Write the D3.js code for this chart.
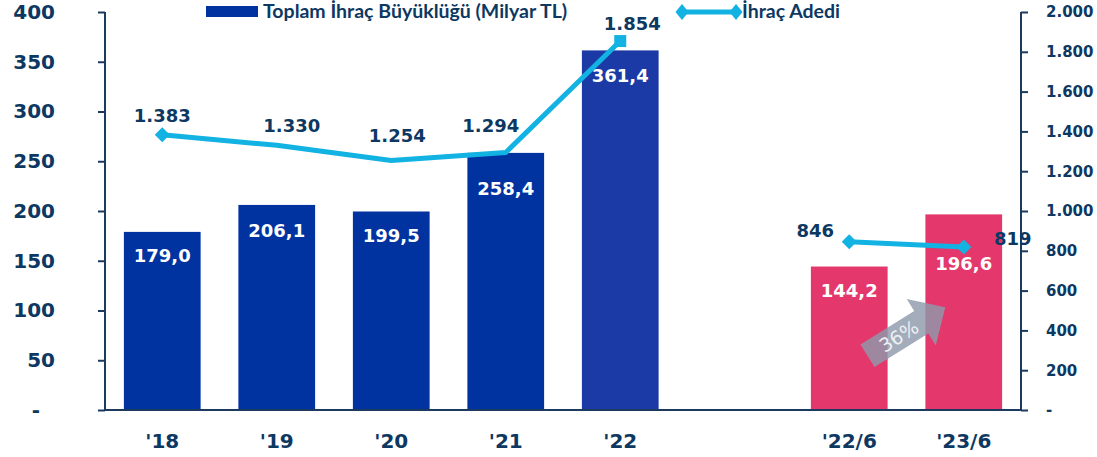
<!DOCTYPE html>
<html>
<head>
<meta charset="utf-8">
<script src="https://cdn.jsdelivr.net/npm/d3@7"></script>
<style>
  html, body { margin: 0; padding: 0; background: #fff; }
  svg { display: block; }
</style>
</head>
<body>
<svg id="chart" width="1097" height="457"></svg>
<script>
// ---------------- data ----------------
const categories = ["'18", "'19", "'20", "'21", "'22", "'22/6", "'23/6"];
const exportVolume = [179.0, 206.1, 199.5, 258.4, 361.4, 144.2, 196.6]; // Milyar TL
const exportCount = [1383, 1330, 1254, 1294, 1854, 846, 819];
const lineGroups = [["'18", "'19", "'20", "'21", "'22"], ["'22/6", "'23/6"]];
const leftTicks = [0, 50, 100, 150, 200, 250, 300, 350, 400];
const rightTicks = [0, 200, 400, 600, 800, 1000, 1200, 1400, 1600, 1800, 2000];
const legendLabels = ["Toplam İhraç Büyüklüğü (Milyar TL)", "İhraç Adedi"];
const growthLabel = "36%";

// ---------------- styling / layout ----------------
const barColors = ["#0033A0", "#0033A0", "#0033A0", "#0033A0", "#1B3AA6", "#E4386C", "#E4386C"];
const markerShape = ["diamond", null, null, null, "square", "diamond", "diamond"];
const lineLabelOffset = [[0, -13], [15, -13], [6, -18], [-15, -20], [12, -11], [-34, -5], [49, -2]];
const barLabelDrop = [30.5, 32, 31, 41.7, 31.3, 30.5, 55.6];
const navy = "#0D3862";
const cyan = "#12B2E2";
const axisColor = "#1B3A5E";

const svg = d3.select("#chart");
const L = 105, R = 1021, T = 12, B = 410;

const tr = d3.formatLocale({ decimal: ",", thousands: ".", grouping: [3], currency: ["", ""] });
const fmtBar = tr.format(",.1f");
const fmtCount = tr.format(",d");

// band scale with a spacer slot between annual and half-year data
const domain = categories.slice(0, 5).concat(["__gap__"], categories.slice(5));
const x = d3.scaleBand().domain(domain).range([L, R]).paddingInner(0.33).paddingOuter(0.165);
const yL = d3.scaleLinear().domain([0, 400]).range([B, T]);
const yR = d3.scaleLinear().domain([0, 2000]).range([B, T]);
const cx = c => x(c) + x.bandwidth() / 2;

// ---------------- bars ----------------
svg.append("g").selectAll("rect")
  .data(categories)
  .join("rect")
  .attr("x", d => x(d))
  .attr("width", x.bandwidth())
  .attr("y", (d, i) => yL(exportVolume[i]))
  .attr("height", (d, i) => B - yL(exportVolume[i]))
  .attr("fill", (d, i) => barColors[i]);

// ---------------- growth arrow ----------------
(function () {
  const i0 = 5, i1 = 6;
  const mx = (cx(categories[i0]) + cx(categories[i1])) / 2;
  const my = yL(79);
  const g = svg.append("g").attr("transform", `translate(${mx},${my}) rotate(-32)`);
  const sl = 63.4, hw = 13.3, hh = 27.4, len = 91.7, off = -46;
  const pts = [[off, -hw], [off + sl, -hw], [off + sl, -hh], [off + len, 0], [off + sl, hh], [off + sl, hw], [off, hw]];
  g.append("polygon").attr("points", pts.map(p => p.join(",")).join(" "))
    .attr("fill", "#8F9AAC").attr("fill-opacity", 0.82);
  g.append("text").attr("x", off + 37).attr("y", 0).attr("dy", "0.36em")
    .attr("text-anchor", "middle")
    .attr("font-family", "'DejaVu Sans', Verdana, sans-serif")
    .attr("font-size", 19).attr("fill", "#EEF0F4")
    .text(growthLabel);
})();

// ---------------- axes ----------------
const axisL = svg.append("g").attr("transform", `translate(${L},0)`)
  .call(d3.axisLeft(yL).tickValues(leftTicks).tickSize(7).tickPadding(0)
    .tickFormat(d => d === 0 ? "-" : String(d)));
axisL.selectAll(".tick text").attr("x", (d) => d === 0 ? -65 : -50);
const axisR = svg.append("g").attr("transform", `translate(${R},0)`)
  .call(d3.axisRight(yR).tickValues(rightTicks).tickSize(7).tickPadding(0)
    .tickFormat(d => d === 0 ? "-" : fmtCount(d)));
axisR.selectAll(".tick text").attr("x", 25);
[axisL, axisR].forEach(a => {
  a.select(".domain").attr("stroke", axisColor).attr("stroke-width", 2).attr("d", `M0,${T}V${B}`);
  a.selectAll(".tick line").attr("stroke", axisColor).attr("stroke-width", 2);
  a.selectAll(".tick text")
    .attr("font-family", "'DejaVu Sans', Verdana, sans-serif")
    .attr("font-weight", "bold").attr("fill", navy);
});
axisL.selectAll(".tick text").attr("font-size", 20);
axisR.selectAll(".tick text").attr("font-size", 15);

// baseline
svg.append("line").attr("x1", L).attr("x2", R).attr("y1", B).attr("y2", B)
  .attr("stroke", axisColor).attr("stroke-width", 2);

// x labels
const xAxis = svg.append("g").attr("transform", `translate(0,${B})`)
  .call(d3.axisBottom(x).tickValues(categories).tickSize(0).tickPadding(0));
xAxis.select(".domain").remove();
xAxis.selectAll(".tick text").attr("y", 38).attr("dy", 0)
  .attr("font-family", "'DejaVu Sans', Verdana, sans-serif")
  .attr("font-weight", "bold").attr("font-size", 20).attr("fill", navy);

// bar labels
svg.append("g").selectAll("text")
  .data(categories)
  .join("text")
  .attr("x", d => cx(d))
  .attr("y", (d, i) => yL(exportVolume[i]) + barLabelDrop[i])
  .attr("text-anchor", "middle")
  .attr("font-family", "'DejaVu Sans', Verdana, sans-serif")
  .attr("font-weight", "bold").attr("font-size", 18).attr("fill", "#fff")
  .text((d, i) => fmtBar(exportVolume[i]));

// ---------------- line ----------------
const line = d3.line().x(d => cx(d)).y(d => yR(exportCount[categories.indexOf(d)]));
svg.append("g").selectAll("path")
  .data(lineGroups)
  .join("path")
  .attr("d", line)
  .attr("fill", "none").attr("stroke", cyan).attr("stroke-width", 5)
  .attr("stroke-linejoin", "round");

function markerPath(shape, px, py, s) {
  if (shape === "diamond") return `M${px},${py - s}L${px + s},${py}L${px},${py + s}L${px - s},${py}Z`;
  if (shape === "square") return `M${px - 6},${py - 6}h12v12h-12Z`;
  return "";
}
svg.append("g").selectAll("path")
  .data(categories.filter((d, i) => markerShape[i]))
  .join("path")
  .attr("d", d => { const i = categories.indexOf(d); return markerPath(markerShape[i], cx(d), yR(exportCount[i]), 7.5); })
  .attr("fill", cyan);

svg.append("g").selectAll("text")
  .data(categories)
  .join("text")
  .attr("x", (d, i) => cx(d) + lineLabelOffset[i][0])
  .attr("y", (d, i) => yR(exportCount[i]) + lineLabelOffset[i][1])
  .attr("text-anchor", "middle")
  .attr("font-family", "'DejaVu Sans', Verdana, sans-serif")
  .attr("font-weight", "bold").attr("font-size", 18).attr("fill", navy)
  .text((d, i) => fmtCount(exportCount[i]));

// ---------------- legend ----------------
const lg = svg.append("g");
lg.append("rect").attr("x", 206).attr("y", 6).attr("width", 52).attr("height", 11).attr("fill", barColors[0]);
lg.append("text").attr("x", 263).attr("y", 18)
  .attr("font-family", "Lato, 'Liberation Sans', sans-serif").attr("font-weight", "bold")
  .attr("font-size", 19.5).attr("fill", navy).text(legendLabels[0]);
lg.append("line").attr("x1", 682).attr("x2", 736).attr("y1", 12).attr("y2", 12)
  .attr("stroke", cyan).attr("stroke-width", 5);
[682, 736].forEach(px => lg.append("path").attr("d", `M${px},4L${px + 6.5},12L${px},20L${px - 6.5},12Z`).attr("fill", cyan));
lg.append("text").attr("x", 742).attr("y", 18)
  .attr("font-family", "Lato, 'Liberation Sans', sans-serif").attr("font-weight", "bold")
  .attr("font-size", 19.5).attr("fill", navy).text(legendLabels[1]);
</script>
</body>
</html>
